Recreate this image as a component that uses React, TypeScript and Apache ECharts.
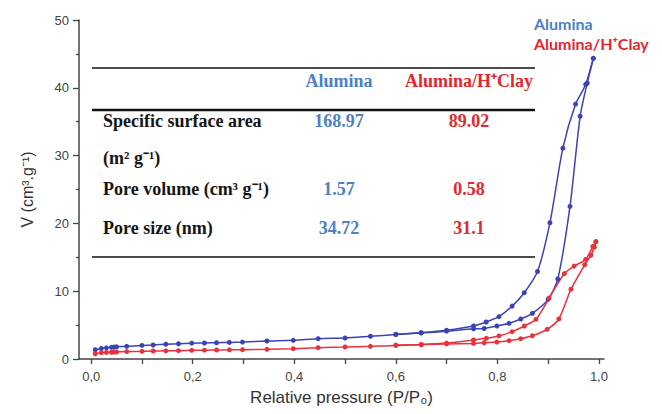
import React, { useEffect, useRef } from 'react';
import * as echarts from 'echarts';

// ---- data ----
const seriesNames = ['Alumina', 'Alumina/H⁺Clay'];
const xLabelValues = [0, 0.2, 0.4, 0.6, 0.8, 1.0];
const xTickValues = [0, 0.1, 0.2, 0.3, 0.4, 0.5, 0.6, 0.7, 0.8, 0.9, 1.0];

const aluminaAdsP = [0.008, 0.02, 0.03, 0.04, 0.045, 0.05, 0.07, 0.1, 0.122, 0.147, 0.172, 0.198, 0.223, 0.247, 0.272, 0.298, 0.346, 0.398, 0.447, 0.5, 0.55, 0.6, 0.65, 0.7, 0.753, 0.774, 0.799, 0.823, 0.846, 0.869, 0.9, 0.919, 0.943, 0.963, 0.977, 0.989];
const aluminaAdsV = [1.37, 1.55, 1.65, 1.72, 1.76, 1.8, 1.87, 2.0, 2.07, 2.18, 2.25, 2.33, 2.36, 2.4, 2.45, 2.5, 2.65, 2.75, 3.0, 3.1, 3.35, 3.6, 3.83, 4.1, 4.45, 4.5, 4.87, 5.26, 5.9, 6.74, 8.8, 11.8, 22.5, 35.8, 40.7, 44.35];
const aluminaDesP = [0.989, 0.974, 0.954, 0.929, 0.9035, 0.879, 0.853, 0.829, 0.803, 0.778, 0.753, 0.7, 0.65, 0.6];
const aluminaDesV = [44.35, 40.5, 37.6, 31.1, 20.1, 12.9, 9.78, 7.8, 6.24, 5.46, 4.87, 4.25, 3.9, 3.65];

const clayAdsP = [0.008, 0.02, 0.03, 0.04, 0.045, 0.05, 0.07, 0.1, 0.122, 0.147, 0.172, 0.198, 0.223, 0.247, 0.272, 0.298, 0.346, 0.398, 0.447, 0.5, 0.55, 0.6, 0.65, 0.7, 0.753, 0.774, 0.799, 0.823, 0.846, 0.869, 0.898, 0.921, 0.945, 0.972, 0.984, 0.991, 0.994];
const clayAdsV = [0.78, 0.93, 0.97, 1.0, 1.02, 1.03, 1.1, 1.13, 1.18, 1.2, 1.23, 1.28, 1.3, 1.33, 1.35, 1.38, 1.43, 1.52, 1.67, 1.77, 1.87, 2.0, 2.1, 2.22, 2.3, 2.4, 2.5, 2.7, 3.0, 3.44, 4.38, 5.9, 10.3, 13.9, 15.3, 16.5, 17.3];
const clayDesP = [0.994, 0.988, 0.974, 0.951, 0.932, 0.902, 0.876, 0.853, 0.829, 0.803, 0.778, 0.753, 0.7, 0.65, 0.6];
const clayDesV = [17.3, 16.6, 14.7, 13.7, 12.6, 9.0, 5.85, 4.87, 4.03, 3.4, 3.05, 2.8, 2.35, 2.15, 2.05];

const tableHeaders = ['Alumina', 'Alumina/H⁺Clay'];
const tableRowLabels = ['Specific surface area', '(m² g⁻¹)', 'Pore volume (cm³ g⁻¹)', 'Pore size (nm)'];
const aluminaProps = ['168.97', '', '1.57', '34.72'];
const clayProps = ['89.02', '', '0.58', '31.1'];

const BLUE_LINE = '#3a44b4';
const RED_LINE = '#e8323c';
const BLUE_TEXT = '#4d7fc4';
const RED_TEXT = '#e0282e';

const zip = (a: number[], b: number[]) => a.map((v, i) => [v, b[i]]);

export default function App() {
  const ref = useRef<HTMLDivElement>(null);
  useEffect(() => {
    if (!ref.current) return;
    const chart = echarts.init(ref.current, undefined, { renderer: 'svg' });

    const serif = '"Liberation Serif", "Times New Roman", serif';
    const sans = '"Liberation Sans", Arial, sans-serif';
    const rowY = [121, 158, 189, 228];
    const colX = [339, 469];
    const graphic: any[] = [];
    const hline = (y: number, w: number) => ({
      type: 'line',
      shape: { x1: 92, y1: y, x2: 535, y2: y },
      style: { stroke: '#111', lineWidth: w },
      silent: true,
    });
    graphic.push(hline(68, 1.4), hline(110, 2.6), hline(257, 1.4));
    const txt = (text: string, x: number, y: number, color: string, align: string) => ({
      type: 'text',
      x,
      y,
      silent: true,
      style: {
        text,
        fill: color,
        fontFamily: serif,
        fontWeight: 'bold',
        fontSize: 18,
        align,
        verticalAlign: 'middle',
        textAlign: align,
        textVerticalAlign: 'middle',
      },
    });
    graphic.push(txt(tableHeaders[0], colX[0], 81, BLUE_TEXT, 'center'));
    graphic.push(txt(tableHeaders[1], colX[1], 81, RED_TEXT, 'center'));
    tableRowLabels.forEach((t, i) => {
      graphic.push(txt(t, 103, rowY[i], '#151515', 'left'));
      if (aluminaProps[i]) graphic.push(txt(aluminaProps[i], colX[0], rowY[i], BLUE_TEXT, 'center'));
      if (clayProps[i]) graphic.push(txt(clayProps[i], colX[1], rowY[i], RED_TEXT, 'center'));
    });

    const lineStyleFor = (color: string) => ({
      type: 'line' as const,
      showSymbol: true,
      symbol: 'circle',
      symbolSize: 5,
      smooth: 0.25,
      lineStyle: { color, width: 1.5 },
      itemStyle: { color },
      color,
    });

    chart.setOption({
      animation: false,
      backgroundColor: '#ffffff',
      grid: { left: 79, right: 58, top: 20, bottom: 55, outerBoundsMode: 'none' },
      legend: {
        orient: 'vertical',
        left: 524,
        top: 10,
        itemWidth: 0,
        itemHeight: 0,
        itemGap: 4,
        icon: 'rect',
        selectedMode: false,
        textStyle: { fontFamily: 'Lato, "Open Sans", sans-serif', fontWeight: 'bold', fontSize: 16 },
        data: [
          { name: seriesNames[0], textStyle: { color: BLUE_TEXT } },
          { name: seriesNames[1], textStyle: { color: RED_TEXT } },
        ],
      },
      xAxis: {
        type: 'value',
        min: -0.024,
        max: 1.01,
        name: 'Relative pressure (P/P₀)',
        nameLocation: 'middle',
        nameGap: 30,
        nameTextStyle: { fontFamily: sans, fontSize: 17, color: '#333' },
        axisLine: { show: true, onZero: false, lineStyle: { color: '#444', width: 1.5 } },
        axisTick: { show: true, inside: false, length: 5, customValues: xTickValues, lineStyle: { color: '#444', width: 1.3 } },
        axisLabel: {
          customValues: xLabelValues,
          margin: 11,
          fontFamily: sans,
          fontSize: 13,
          color: '#444',
          formatter: (v: number) => v.toFixed(1).replace('.', ','),
        },
        splitLine: { show: false },
      },
      yAxis: {
        type: 'value',
        min: 0,
        max: 50,
        interval: 10,
        name: 'V (cm³.g⁻¹)',
        nameLocation: 'middle',
        nameGap: 44,
        nameRotate: 90,
        nameTextStyle: { fontFamily: sans, fontSize: 16, color: '#333' },
        axisLine: { show: true, onZero: false, lineStyle: { color: '#444', width: 1.5 } },
        axisTick: { show: true, inside: false, length: 6, lineStyle: { color: '#444', width: 1.3 } },
        minorTick: { show: true, splitNumber: 2, length: 3, lineStyle: { color: '#444', width: 1.3 } },
        axisLabel: {
          margin: 10,
          fontFamily: sans,
          fontSize: 13,
          color: '#444',
        },
        splitLine: { show: false },
      },
      graphic,
      series: [
        { name: seriesNames[0], ...lineStyleFor(BLUE_LINE), data: zip(aluminaAdsP, aluminaAdsV) },
        { name: seriesNames[0], ...lineStyleFor(BLUE_LINE), data: zip(aluminaDesP, aluminaDesV) },
        { name: seriesNames[1], ...lineStyleFor(RED_LINE), data: zip(clayAdsP, clayAdsV) },
        { name: seriesNames[1], ...lineStyleFor(RED_LINE), data: zip(clayDesP, clayDesV) },
      ],
    });
    return () => chart.dispose();
  }, []);
  return (
    <div style={{ position: 'absolute', left: 0, top: 0, width: 662, height: 414 }}>
      <div ref={ref} style={{ width: 662, height: 414 }} />
    </div>
  );
}
